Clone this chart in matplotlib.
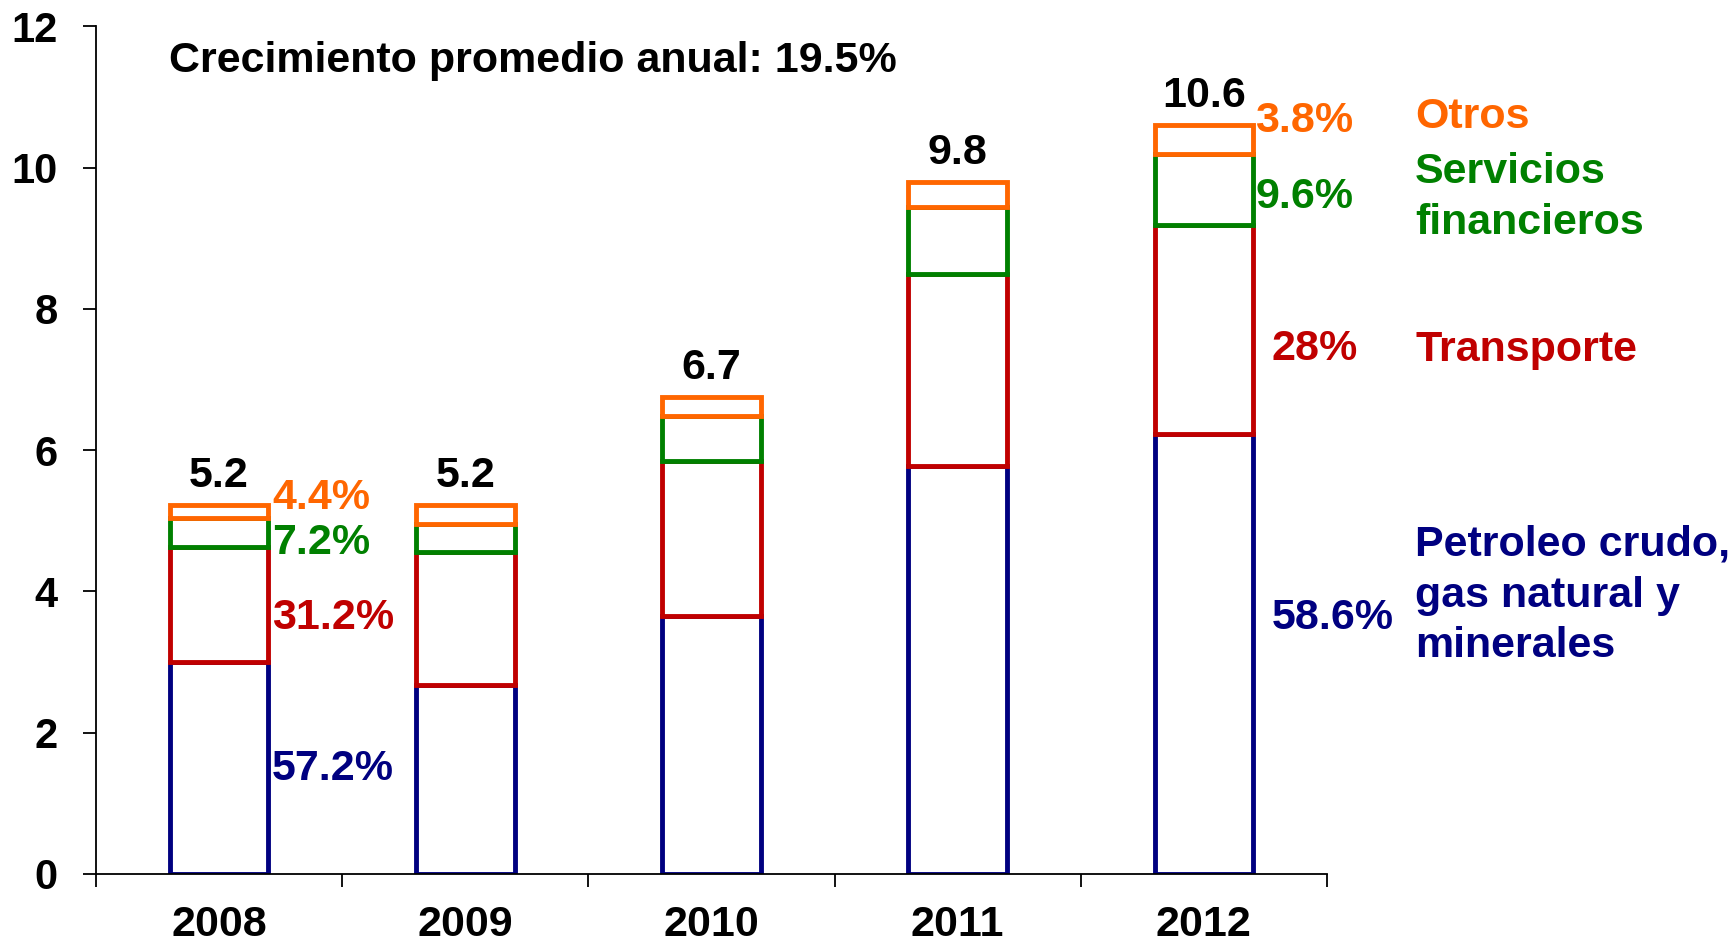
import matplotlib
matplotlib.use("Agg")
import matplotlib.pyplot as plt
import numpy as np

plt.rcParams['font.family'] = ['Liberation Sans', 'DejaVu Sans']
plt.rcParams['font.weight'] = 'bold'

years = ['2008', '2009', '2010', '2011', '2012']
petroleo = [3.00, 2.68, 3.65, 5.77, 6.23]
transporte = [1.63, 1.88, 2.20, 2.73, 2.96]
servicios = [0.41, 0.40, 0.63, 0.94, 1.01]
otros = [0.19, 0.27, 0.28, 0.36, 0.41]
totals = ['5.2', '5.2', '6.7', '9.8', '10.6']
pct_2008 = ['57.2%', '31.2%', '7.2%', '4.4%']
pct_2012 = ['58.6%', '28%', '9.6%', '3.8%']
series_names = ['Petroleo crudo,\ngas natural y\nminerales', 'Transporte',
                'Servicios\nfinancieros', 'Otros']
title_text = 'Crecimiento promedio anual: 19.5%'

colors = ['#000080', '#C00000', '#008000', '#FF6600']
FS = 31
DY = -0.05

fig = plt.figure(figsize=(17.29, 9.43), dpi=100)
ax = fig.add_axes([0.0555, 0.0732, 0.712, 0.8987])

x = np.arange(len(years))
series = [petroleo, transporte, servicios, otros]
bottom = np.zeros(len(years))
for vals, c in zip(series, colors):
    ax.bar(x, vals, width=0.4, bottom=bottom, facecolor='white',
           edgecolor=c, linewidth=3.5)
    bottom = bottom + np.array(vals)

ax.set_xlim(-0.5, 4.5)
ax.set_ylim(0, 12)

# total labels
for i, t in enumerate(totals):
    ax.text(x[i], bottom[i] + 0.12, t, ha='center', va='bottom',
            fontsize=FS, fontweight='bold', color='black')

# percentage labels 2008
y08 = [1.53, 3.67, 4.73, 5.38]
for lbl, yy, c in zip(pct_2008, y08, colors):
    ax.text(0.215, yy + DY, lbl, ha='left', va='center', fontsize=FS,
            fontweight='bold', color=c)

# percentage labels 2012
y12 = [3.67, 7.49, 9.64, 10.71]
x12 = [4.276, 4.276, 4.208, 4.208]
for lbl, xx, yy, c in zip(pct_2012, x12, y12, colors):
    ax.text(xx, yy + DY, lbl, ha='left', va='center', fontsize=FS,
            fontweight='bold', color=c)

# side legend text
legend_y = [[4.71, 3.98, 3.28], [7.47], [9.99, 9.27], [10.77]]
for name, ys, c in zip(series_names, legend_y, colors):
    for line, yy in zip(name.split('\n'), ys):
        ax.text(4.858, yy + DY, line, ha='left', va='center', fontsize=FS,
                fontweight='bold', color=c, clip_on=False)

ax.text(-0.204, 11.56 + DY, title_text, ha='left', va='center', fontsize=FS,
        fontweight='bold', color='black')

for s in ['top', 'right']:
    ax.spines[s].set_visible(False)
ax.spines['left'].set_linewidth(1.3)
ax.spines['bottom'].set_linewidth(1.3)

ax.set_xticks(np.arange(-0.5, 5.0, 1.0))
ax.set_xticklabels([])
ax.set_xticks(x, minor=True)
ax.set_xticklabels(years, minor=True, fontsize=31, fontweight='bold')
ax.tick_params(axis='x', which='major', direction='out', length=9.5, width=1.3)
ax.tick_params(axis='x', which='minor', length=0, pad=22)
ax.set_yticks(np.arange(0, 13, 2))
ax.set_yticklabels([str(v) for v in range(0, 13, 2)], fontsize=30,
                   fontweight='bold')
ax.tick_params(axis='y', direction='out', length=9.5, width=1.3, pad=18)

fig.savefig('out.png', dpi=100)
